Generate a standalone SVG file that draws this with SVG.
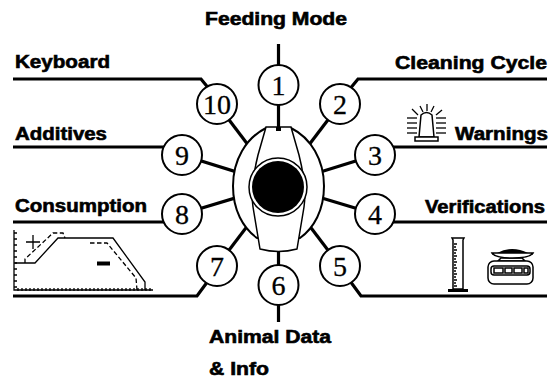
<svg xmlns="http://www.w3.org/2000/svg" width="552" height="380" viewBox="0 0 552 380">
  <style>
    .lbl { font-family: "Liberation Sans", Arial, sans-serif; font-weight: bold; font-size: 18px; fill: #000; stroke: #000; stroke-width: 0.6; }
    .num { font-family: "Liberation Serif", "Times New Roman", serif; font-size: 28px; fill: #000; stroke: #000; stroke-width: 0.3; text-anchor: middle; }
    .lead { fill: none; stroke: #000; stroke-width: 3.2; stroke-linejoin: miter; }
    .spoke { stroke: #000; stroke-width: 3.2; }
    .dial { fill: #fff; stroke: #000; stroke-width: 2; }
    .thin { fill: #fff; stroke: #000; stroke-width: 1.5; }
    .ico { fill: none; stroke: #000; stroke-width: 1.3; }
  </style>

  <rect width="552" height="380" fill="#fff"/>

  <!-- labels -->
  <g id="labels">
    <text class="lbl" x="205" y="25" textLength="142" lengthAdjust="spacingAndGlyphs">Feeding Mode</text>
    <text class="lbl" x="15" y="68" textLength="95" lengthAdjust="spacingAndGlyphs">Keyboard</text>
    <text class="lbl" x="15" y="140" textLength="92" lengthAdjust="spacingAndGlyphs">Additives</text>
    <text class="lbl" x="15" y="212" textLength="132" lengthAdjust="spacingAndGlyphs">Consumption</text>
    <text class="lbl" x="395" y="69" textLength="152" lengthAdjust="spacingAndGlyphs">Cleaning Cycle</text>
    <text class="lbl" x="455" y="140" textLength="93" lengthAdjust="spacingAndGlyphs">Warnings</text>
    <text class="lbl" x="425" y="213" textLength="120" lengthAdjust="spacingAndGlyphs">Verifications</text>
    <text class="lbl" x="209" y="343" textLength="122" lengthAdjust="spacingAndGlyphs">Animal Data</text>
    <text class="lbl" x="209" y="375" textLength="60" lengthAdjust="spacingAndGlyphs">&amp; Info</text>
  </g>

  <!-- connectors: label leaders and spokes to the dial -->
  <g id="connectors">
    <line class="spoke" x1="278.5" y1="44" x2="278.5" y2="70"/>
    <line class="spoke" x1="278.5" y1="300" x2="278.5" y2="322"/>
    <polyline class="lead" points="13,79 201,79 210,90"/>
    <polyline class="lead" points="547,79 358,79 349,90"/>
    <polyline class="lead" points="13,147 170,147"/>
    <polyline class="lead" points="547,147 388,147"/>
    <polyline class="lead" points="13,222 170,222"/>
    <polyline class="lead" points="547,222 388,222"/>
    <polyline class="lead" points="13,296 197,296 208,281"/>
    <polyline class="lead" points="547,296 361,296 350,281"/>
    <line class="spoke" x1="278.5" y1="85" x2="278.5" y2="185"/>
    <line class="spoke" x1="340" y1="104" x2="278.5" y2="185"/>
    <line class="spoke" x1="375" y1="155" x2="278.5" y2="185"/>
    <line class="spoke" x1="375" y1="214" x2="278.5" y2="185"/>
    <line class="spoke" x1="340" y1="266" x2="278.5" y2="185"/>
    <line class="spoke" x1="278.5" y1="285" x2="278.5" y2="185"/>
    <line class="spoke" x1="217" y1="266" x2="278.5" y2="185"/>
    <line class="spoke" x1="182" y1="214" x2="278.5" y2="185"/>
    <line class="spoke" x1="182" y1="155" x2="278.5" y2="185"/>
    <line class="spoke" x1="217" y1="104" x2="278.5" y2="185"/>
  </g>

  <!-- central selector dial -->
  <g id="dial">
    <path class="dial" d="M266,128 C246,138 233,160 233,186 C233,210 243,228 257,238 L300,238 C314,228 324,210 324,186 C324,160 311,138 291,128 Z"/>
    <path class="thin" d="M266,127 L291,127 L299,155 Q307,187 304,207 L297,249 Q278.5,254 260,249 L253,207 Q250,187 258,155 Z"/>
    <rect x="276" y="127" width="5" height="4" fill="#000"/>
    <circle class="thin" cx="278" cy="187" r="29"/>
    <circle cx="278" cy="187" r="26" fill="#000"/>
  </g>

  <!-- numbered positions -->
  <g id="pos1"><circle class="dial" cx="278.5" cy="85" r="20"/><text class="num" x="278.5" y="95">1</text></g>
  <g id="pos2"><circle class="dial" cx="340" cy="104" r="20"/><text class="num" x="340" y="114">2</text></g>
  <g id="pos3"><circle class="dial" cx="375" cy="155" r="20"/><text class="num" x="375" y="165">3</text></g>
  <g id="pos4"><circle class="dial" cx="375" cy="214" r="20"/><text class="num" x="375" y="224">4</text></g>
  <g id="pos5"><circle class="dial" cx="340" cy="266" r="20"/><text class="num" x="340" y="276">5</text></g>
  <g id="pos6"><circle class="dial" cx="278.5" cy="285" r="20"/><text class="num" x="278.5" y="295">6</text></g>
  <g id="pos7"><circle class="dial" cx="217" cy="266" r="20"/><text class="num" x="217" y="276">7</text></g>
  <g id="pos8"><circle class="dial" cx="182" cy="214" r="20"/><text class="num" x="182" y="224">8</text></g>
  <g id="pos9"><circle class="dial" cx="182" cy="155" r="20"/><text class="num" x="182" y="165">9</text></g>
  <g id="pos10"><circle class="dial" cx="217" cy="104" r="20"/><text class="num" x="217" y="114" textLength="28" lengthAdjust="spacingAndGlyphs">10</text></g>

  <!-- warning beacon -->
  <g id="beacon">
    <path class="thin" d="M421,115 Q426.5,110 432,115 L434,137 L419,137 Z"/>
    <rect x="415" y="137" width="23" height="4" class="thin"/>
    <g class="ico">
      <line x1="407" y1="118" x2="417" y2="118"/>
      <line x1="407" y1="123" x2="417" y2="123"/>
      <line x1="407" y1="128" x2="417" y2="128"/>
      <line x1="407" y1="133" x2="417" y2="133"/>
      <line x1="436" y1="118" x2="446" y2="118"/>
      <line x1="436" y1="123" x2="446" y2="123"/>
      <line x1="436" y1="128" x2="446" y2="128"/>
      <line x1="436" y1="133" x2="446" y2="133"/>
      <line x1="412" y1="109" x2="418" y2="115"/>
      <line x1="420" y1="106" x2="423" y2="112"/>
      <line x1="427" y1="104" x2="427" y2="111"/>
      <line x1="434" y1="106" x2="431" y2="112"/>
      <line x1="442" y1="110" x2="436" y2="115"/>
    </g>
  </g>

  <!-- measuring cylinder -->
  <g id="cylinder">
    <path class="thin" d="M452,238 L464,238 L463,240 L463,289 L453,289 L453,240 Z"/>
    <rect x="448" y="289" width="20" height="3" fill="#000"/>
    <path class="ico" stroke-width="1" d="M454,244h3M454,247h2M454,250h3M454,253h2M454,256h3M454,259h2M454,262h3M454,265h2M454,268h3M454,271h2M454,274h3M454,277h2M454,280h3M454,283h2M454,286h3"/>
  </g>

  <!-- weighing scale -->
  <g id="scale">
    <path class="thin" d="M501,258 L522,258 L525,261 L498,261 Z"/>
    <rect class="thin" x="488" y="261" width="45" height="23" rx="6"/>
    <rect class="thin" x="491" y="266" width="39" height="9" rx="3"/>
    <rect class="thin" x="494" y="268" width="9" height="5"/>
    <rect class="thin" x="505" y="268" width="7" height="5"/>
    <rect class="thin" x="514" y="268" width="8" height="5"/>
    <rect class="thin" x="524" y="268" width="4" height="5"/>
    <path d="M497,253 Q512,245 528,253 Z" fill="#000"/>
    <path class="thin" d="M492,253 L533,253 Q530,258 512.5,258 Q495,258 492,253 Z"/>
  </g>

  <!-- consumption chart -->
  <g id="chart">
    <path class="ico" stroke-width="1.8" d="M14,230 V290 H153"/>
    <path class="ico" stroke-width="1.3" d="M14,233h3M14,239h3M14,245h3M14,251h3M14,257h3M14,263h3M14,269h3M14,275h3M14,281h3M14,287h3"/>
    <path class="ico" stroke-width="1.3" d="M18,288v3M22,288v3M26,288v3M30,288v3M34,288v3M38,288v3M42,288v3M46,288v3M50,288v3M54,288v3M58,288v3M62,288v3M66,288v3M70,288v3M74,288v3M78,288v3M82,288v3M86,288v3M90,288v3M94,288v3M98,288v3M102,288v3M106,288v3M110,288v3M114,288v3M118,288v3M122,288v3M126,288v3M130,288v3M134,288v3M138,288v3M142,288v3M146,288v3M150,288v3"/>
    <path class="ico" stroke-width="3" d="M15,263 H35 L58,238 H113 L145,282 V290"/>
    <path class="ico" stroke-width="2.4" stroke-dasharray="4.5,2.5" d="M25,263 V259 L53,233 H63 L65,238"/>
    <path class="ico" stroke-width="2.4" stroke-dasharray="4.5,2.5" d="M90,243 H107 L136,278 L137,290"/>
    <path class="ico" stroke-width="3.5" d="M26,242 H40 M33,235 V249"/>
    <rect x="97" y="261.5" width="13" height="4" fill="#000"/>
  </g>
</svg>
